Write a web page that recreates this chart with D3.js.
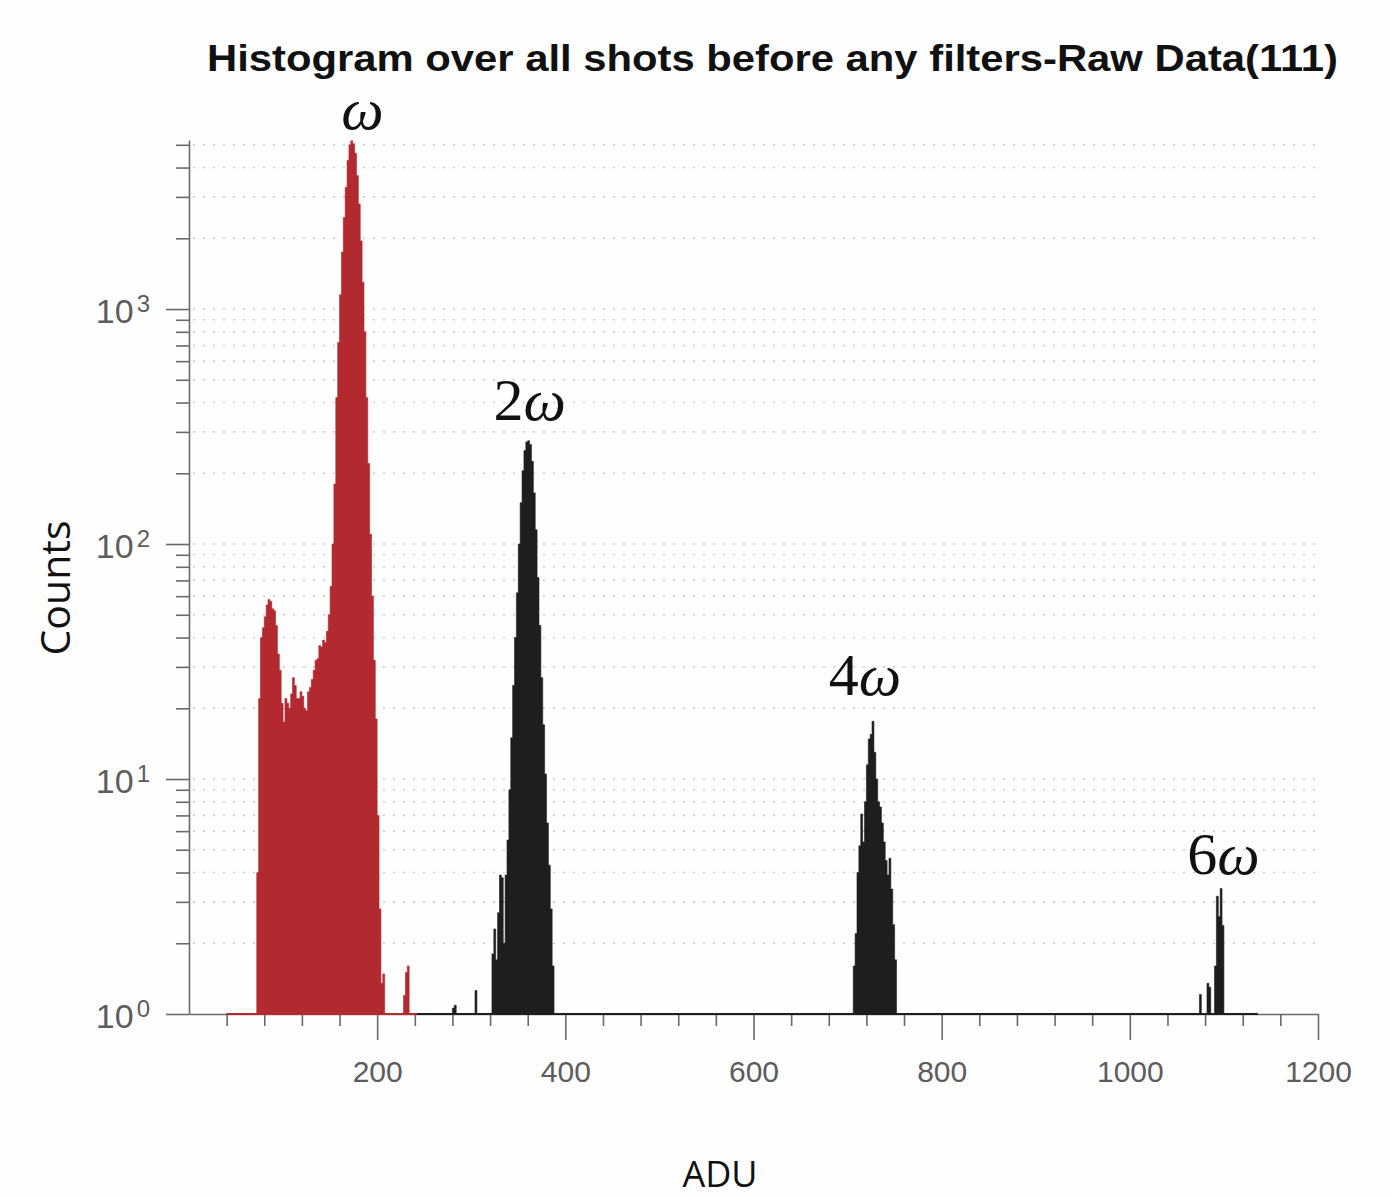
<!DOCTYPE html>
<html>
<head>
<meta charset="utf-8">
<script src="https://cdn.jsdelivr.net/npm/d3@7"></script>
<style>
  body { margin: 0; background: #fefefe; }
  svg { display: block; }
</style>
</head>
<body>
<svg width="1390" height="1197"></svg>
<script>

// histogram bins are 2 ADU wide, each series = start ADU + counts per bin
const BIN = 2;

const redStart = 72;
const redCounts = [4, 22, 40, 44, 49, 55, 58, 57, 53, 52,
                   45, 34, 29, 21, 17.5, 22, 21, 20, 23, 27,
                   25, 22, 22, 23.5, 22.5, 20, 19.5, 23.5, 24.5, 26.5,
                   29, 32, 32.5, 37, 36.5, 39, 38, 42.5, 50, 66,
                   100, 180, 420, 720, 1150, 1750, 2450, 3300, 4300, 5000,
                   5200, 5050, 4600, 3700, 2800, 1950, 1300, 800, 420, 220,
                   110, 60, 32, 18, 7, 2.8, 1.35, 1.48,
                   0, 0, 0, 0, 0, 0, 0, 0, 0, 0,
                   1.2, 1.5, 1.6];

const peak2Start = 280;
const peak2Counts = [1.06, 1.09, 0, 0, 0, 0, 0, 0, 0, 0, 0, 0,
                     1.26, 0, 0, 0, 0, 0, 0, 0, 0,
                     1.8, 2.3, 1.7, 2.7, 3.9, 3.8, 2.0, 3.9, 5.5, 9,
                     15, 25, 40, 62, 100, 150, 205, 250, 272, 275,
                     265, 225, 165, 115, 72, 45, 27, 17, 10.5, 6.5,
                     4.3, 2.8, 1.6];

const peak4Start = 706;
const peak4Counts = [1.6, 2.2, 4.0, 5.2, 7.1, 5.4, 8, 11.5, 14.8, 15.5,
                     17.6, 13, 10, 8, 7.6, 6.5, 5.4, 4.5, 3.9, 4.6,
                     3.4, 2.4, 1.7];

const peak6Start = 1074;
const peak6Counts = [1.21, 0, 0, 0, 1.35, 1.3, 0, 0, 1.6, 3.17, 2.6, 3.42, 2.38];

// empty bins sitting on the baseline (ADU ranges)
const redBase = [40, 242];
const blackBase = [242, 1136];

const xMajor = [200, 400, 600, 800, 1000, 1200];
const xMinor = d3.range(40, 1200, 40).filter(v => v % 200 !== 0);
const yMajor = [1, 10, 100, 1000];

// label anchor (ADU, counts) for the harmonic names
const peakLabels = [
  { adu: 184.4, count: 5840, pre: '' },
  { adu: 362, count: 337, pre: '2' },
  { adu: 718.5, count: 22.8, pre: '4' },
  { adu: 1099.5, count: 3.94, pre: '6' }
];

const RED = '#b2292f';
const BLACK = '#1e1e1e';
const AXIS = '#6a6a6a';
const LABEL = '#5c5c5c';

let svg = d3.select('svg');

let x = d3.scaleLinear().domain([0, 1200]).range([189, 1318]);
let y = d3.scaleLog().domain([1, 5240]).range([1014, 140]);

svg.append('rect')
    .attr('width', 1390).attr('height', 1197)
    .attr('fill', '#fefefe');

// dotted horizontal grid
svg.append('g')
    .selectAll('line')
    .data(y.ticks().filter(v => v > 1))
    .enter().append('line')
    .attr('x1', x(0) + 4).attr('x2', x(1200))
    .attr('y1', d => y(d)).attr('y2', d => y(d))
    .attr('stroke', '#cdcdcd')
    .attr('stroke-width', 1.6)
    .attr('stroke-dasharray', '2,8');

// axes
let gx = svg.append('g')
    .attr('transform', 'translate(0,' + y(1) + ')')
    .call(d3.axisBottom(x).tickValues(xMajor).tickSize(26).tickPadding(21)
        .tickFormat(d3.format('d')).tickSizeOuter(0));
svg.append('g')
    .attr('transform', 'translate(0,' + y(1) + ')')
    .call(d3.axisBottom(x).tickValues(xMinor).tickSize(12).tickFormat('').tickSizeOuter(0))
    .select('.domain').remove();

gx.selectAll('text')
    .attr('font-family', '"Liberation Sans", Arial, sans-serif')
    .attr('font-size', 30)
    .attr('fill', LABEL);

let gy = svg.append('g')
    .attr('transform', 'translate(' + x(0) + ',0)')
    .call(d3.axisLeft(y).tickValues(yMajor).tickSize(23).tickPadding(16).tickSizeOuter(0));
svg.append('g')
    .attr('transform', 'translate(' + x(0) + ',0)')
    .call(d3.axisLeft(y).tickValues(y.ticks().filter(v => yMajor.indexOf(v) < 0))
        .tickSize(13).tickFormat('').tickSizeOuter(0))
    .select('.domain').remove();

gy.selectAll('.tick text')
    .text(null)
    .attr('dy', '0.4em')
    .attr('font-family', '"Liberation Sans", Arial, sans-serif')
    .attr('font-size', 34)
    .attr('fill', LABEL)
    .each(function(d) {
        let t = d3.select(this);
        t.append('tspan').text('10');
        t.append('tspan').attr('dy', -11).attr('dx', 3).attr('font-size', 24)
            .text(Math.round(Math.log10(d)));
    });

svg.selectAll('.domain, .tick line')
    .attr('stroke', AXIS)
    .attr('stroke-width', 1.6);

// histogram drawn as one stepped area per series
let area = d3.area()
    .x(d => x(d.a))
    .y0(y(1))
    .y1(d => y(Math.max(d.c, 1)));

function drawHist(start, counts, color) {
    let pts = counts.flatMap((c, i) => [
        { a: start + i * BIN, c: c },
        { a: start + (i + 1) * BIN, c: c }
    ]);
    svg.append('path')
        .datum(pts)
        .attr('d', area)
        .attr('fill', color)
        .attr('stroke', color)
        .attr('stroke-width', 0.6);
}

drawHist(redStart, redCounts, RED);
drawHist(peak2Start, peak2Counts, BLACK);
drawHist(peak4Start, peak4Counts, BLACK);
drawHist(peak6Start, peak6Counts, BLACK);

[[redBase, RED], [blackBase, BLACK]].forEach(([r, c]) => {
    svg.append('line')
        .attr('x1', x(r[0])).attr('x2', x(r[1]))
        .attr('y1', y(1)).attr('y2', y(1))
        .attr('stroke', c)
        .attr('stroke-width', 2);
});

// peak labels
let lab = svg.append('g')
    .selectAll('text')
    .data(peakLabels)
    .enter().append('text')
    .attr('x', d => x(d.adu))
    .attr('y', d => y(d.count))
    .attr('text-anchor', 'middle')
    .attr('font-family', '"Liberation Serif", "DejaVu Serif", serif')
    .attr('font-size', 60)
    .attr('fill', '#111');
lab.append('tspan').text(d => d.pre);
lab.append('tspan').attr('font-style', 'italic').text('ω');

// title and axis labels
svg.append('text')
    .attr('x', 207).attr('y', 71)
    .attr('textLength', 1131)
    .attr('lengthAdjust', 'spacingAndGlyphs')
    .attr('font-family', '"Liberation Sans", Arial, sans-serif')
    .attr('font-weight', 'bold')
    .attr('font-size', 36)
    .attr('fill', '#111')
    .text('Histogram over all shots before any filters-Raw Data(111)');

svg.append('text')
    .attr('transform', 'translate(70,588) rotate(-90)')
    .attr('text-anchor', 'middle')
    .attr('font-family', '"Open Sans", sans-serif')
    .attr('font-size', 41)
    .attr('fill', '#111')
    .text('Counts');

svg.append('text')
    .attr('x', 720).attr('y', 1187)
    .attr('text-anchor', 'middle')
    .attr('font-family', '"Open Sans", sans-serif')
    .attr('font-size', 36)
    .attr('fill', '#111')
    .text('ADU');

</script>
</body>
</html>
